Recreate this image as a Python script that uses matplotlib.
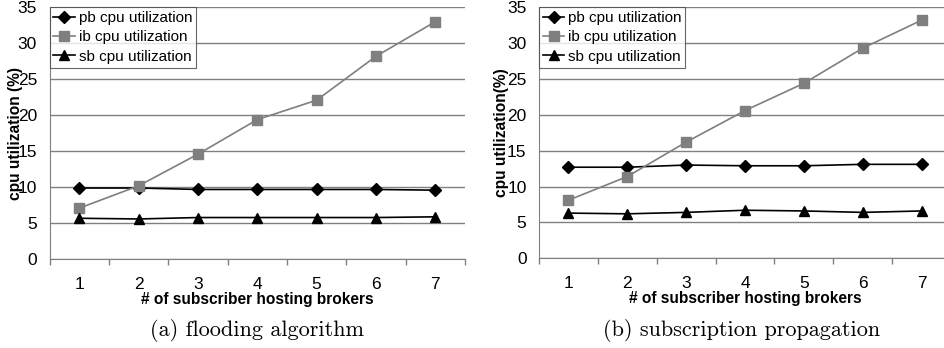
import matplotlib
matplotlib.use("Agg")
import matplotlib.pyplot as plt
import numpy as np

brokers = [1, 2, 3, 4, 5, 6, 7]
series_names = ["pb cpu utilization", "ib cpu utilization", "sb cpu utilization"]

# (a) flooding algorithm
flood_pb = [9.9, 9.9, 9.7, 9.7, 9.7, 9.7, 9.6]
flood_ib = [7.1, 10.2, 14.6, 19.4, 22.1, 28.2, 33.0]
flood_sb = [5.7, 5.6, 5.8, 5.8, 5.8, 5.8, 5.9]

# (b) subscription propagation
prop_pb = [12.7, 12.7, 13.0, 12.9, 12.9, 13.1, 13.1]
prop_ib = [8.1, 11.4, 16.2, 20.6, 24.4, 29.3, 33.2]
prop_sb = [6.3, 6.2, 6.4, 6.7, 6.6, 6.4, 6.6]

captions = ["(a) flooding algorithm", "(b) subscription propagation"]
ylabels = ["cpu utilization (%)", "cpu utilization(%)"]
xlabel = "# of subscriber hosting brokers"

plt.rcParams["font.family"] = ["Liberation Sans", "DejaVu Sans"]

fig = plt.figure(figsize=(9.45, 3.48), dpi=100)
ax_a = fig.add_axes([0.0524, 0.2549, 0.4397, 0.7241])
ax_b = fig.add_axes([0.5704, 0.2578, 0.4360, 0.7213])

styles = [
    dict(color="black", marker="D", markersize=6),
    dict(color="#7f7f7f", marker="s", markersize=7),
    dict(color="black", marker="^", markersize=7.5),
]

panels = [
    (ax_a, [flood_pb, flood_ib, flood_sb], captions[0], ylabels[0], 23),
    (ax_b, [prop_pb, prop_ib, prop_sb], captions[1], ylabels[1], 509),
]

for ax, data, cap, ylab, ylab_x in panels:
    for name, vals, st in zip(series_names, data, styles):
        ax.plot(brokers, vals, label=name, linewidth=1.2, clip_on=False, **st)

    ax.set_xlim(0.5, 7.5)
    ax.set_ylim(0, 35)
    ax.set_yticks(np.arange(0, 36, 5))
    ax.set_xticks(brokers)
    ax.set_xticks(np.arange(0.5, 8, 1), minor=True)
    ax.tick_params(axis="x", which="major", length=0, pad=13, labelsize=12.5)
    ax.tick_params(axis="x", which="minor", length=4, color="#808080", width=1)
    ax.tick_params(axis="y", length=0, pad=9, labelsize=12.5)

    ax.grid(axis="y", color="#808080", linewidth=1)
    ax.set_axisbelow(True)
    for side in ["top", "right"]:
        ax.spines[side].set_visible(False)
    ax.spines["left"].set_color("#808080")
    ax.spines["bottom"].set_color("#808080")

    ax.set_xlabel(xlabel, fontsize=11.2, fontweight="bold", labelpad=0)
    ax.set_ylabel(ylab, fontsize=11.2, fontweight="bold")
    bb = ax.get_position()
    ax.yaxis.set_label_coords(ylab_x / 945, bb.y0 + bb.height * 0.5,
                              transform=fig.transFigure)

    leg = ax.legend(loc="upper left", fontsize=11, frameon=True, fancybox=False,
                    borderaxespad=0, handlelength=1.4, handletextpad=0.25,
                    labelspacing=0.35, borderpad=0.25)
    leg.get_frame().set_edgecolor("#404040")
    leg.get_frame().set_linewidth(0.8)

    fig.text((bb.x0 + min(bb.x1, 1.0)) / 2, 17 / 348, cap, ha="center", va="center",
             fontsize=16, family="cmr10")

fig.savefig("out.png", dpi=100)
